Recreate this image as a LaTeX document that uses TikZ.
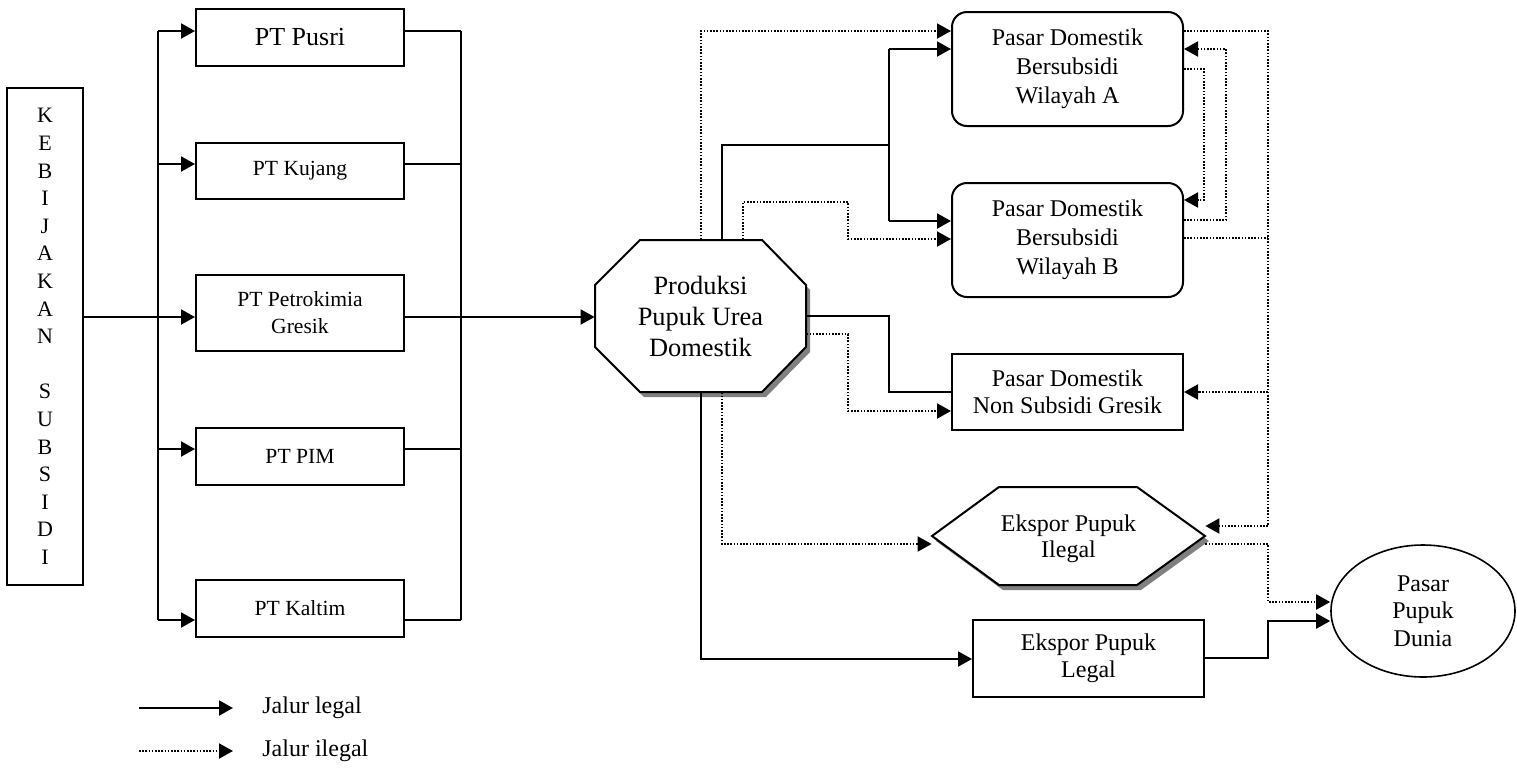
\documentclass[tikz,border=0pt]{standalone}
\usepackage{fontspec}
\setmainfont{Liberation Serif}
\usetikzlibrary{arrows.meta,calc,shapes.geometric}
\begin{document}
\begin{tikzpicture}[x=0.5pt,y=-0.5pt,
  box/.style={draw,line width=1pt,inner sep=0pt,align=center,font=\fontsize{10.8}{13.5}\selectfont},
  rbox/.style={box,rounded corners=7.5pt,font=\fontsize{12}{14.5}\selectfont},
  plain/.style={inner sep=0pt,align=center},
  line/.style={line width=1pt},
  legal/.style={line width=1pt,-{Triangle[length=7pt,width=7.5pt]}},
  dline/.style={line width=1pt,dash pattern=on 0.8pt off 0.8pt},
  ilegal/.style={dline,-{Triangle[length=7pt,width=7.5pt]}},
  shade/.style={fill=black!50}]
\useasboundingbox (0,0) rectangle (1517,773);

% ---------- nodes ----------
\node[box,minimum width=38pt,minimum height=248.5pt,font=\fontsize{11}{13.8}\selectfont] (keb) at (45,336.5)
  {K\\E\\B\\I\\J\\A\\K\\A\\N\\\mbox{}\\S\\U\\B\\S\\I\\D\\I};

\node[box,minimum width=104pt,minimum height=28.5pt,font=\fontsize{13}{15}\selectfont] (pusri) at (300,37.5) {PT Pusri};
\node[box,minimum width=104pt,minimum height=28pt] (kujang) at (300,171) {PT Kujang};
\node[box,minimum width=104pt,minimum height=38pt] (petro) at (300,313) {PT Petrokimia\\Gresik};
\node[box,minimum width=104pt,minimum height=28.5pt] (pim) at (300,456.5) {PT PIM};
\node[box,minimum width=104pt,minimum height=28.5pt] (kaltim) at (300,608.5) {PT Kaltim};

% octagon (shadow + shape)
\fill[shade,shift={(4,5)}] (640,240) -- (762,240) -- (806,285) -- (806,347) -- (762,392) -- (640,392) -- (595,347) -- (595,285) -- cycle;
\draw[line,fill=white] (640,240) -- (762,240) -- (806,285) -- (806,347) -- (762,392) -- (640,392) -- (595,347) -- (595,285) -- cycle;
\node[plain,minimum width=105.5pt,minimum height=76pt,font=\fontsize{13.2}{15.5}\selectfont] (oct) at (700.5,316)
  {Produksi\\Pupuk Urea\\Domestik};

\node[rbox,minimum width=115.5pt,minimum height=57pt] (A) at (1067.5,69) {Pasar Domestik\\Bersubsidi\\Wilayah A};
\node[rbox,minimum width=115.5pt,minimum height=57pt] (B) at (1067.5,240) {Pasar Domestik\\Bersubsidi\\Wilayah B};
\node[box,minimum width=115.5pt,minimum height=38pt,font=\fontsize{12}{13.5}\selectfont] (ns) at (1067.5,392) {Pasar Domestik\\Non Subsidi Gresik};

% hexagon (shadow + shape)
\fill[shade,shift={(4,5)}] (932,536) -- (999,487) -- (1137,487) -- (1205,536) -- (1137,585) -- (999,585) -- cycle;
\draw[line,fill=white] (932,536) -- (999,487) -- (1137,487) -- (1205,536) -- (1137,585) -- (999,585) -- cycle;
\node[plain,minimum width=136.5pt,minimum height=49pt,font=\fontsize{12}{13}\selectfont] (ilegal) at (1068.5,539) {Ekspor Pupuk\\Ilegal};

\node[box,minimum width=115.5pt,minimum height=38.5pt,font=\fontsize{12}{13.5}\selectfont] (legal) at (1088.5,658.5) {Ekspor Pupuk\\Legal};
\node[ellipse,draw,line width=0.8pt,inner sep=0pt,minimum width=92pt,minimum height=66pt,align=center,font=\fontsize{12}{13.75}\selectfont] (dunia) at (1423,611) {Pasar\\Pupuk\\Dunia};

% ---------- left bus ----------
\coordinate (bT) at (158,31);
\coordinate (bK) at (158,164);
\coordinate (bP) at (158,317);
\coordinate (bI) at (158,449);
\coordinate (bB) at (158,620);
\draw[line] (bT) -- (bB);
\draw[legal] (keb.east |- bP) -- (bP -| petro.west);
\draw[legal] (bT) -- (bT -| pusri.west);
\draw[legal] (bK) -- (bK -| kujang.west);
\draw[legal] (bI) -- (bI -| pim.west);
\draw[legal] (bB) -- (bB -| kaltim.west);

% ---------- right bus ----------
\coordinate (rT) at (461,31);
\coordinate (rK) at (461,164);
\coordinate (rP) at (461,317);
\coordinate (rI) at (461,449);
\coordinate (rB) at (461,620);
\draw[line] (rT) -- (rB);
\draw[line] (pusri.east |- rT) -- (rT);
\draw[line] (kujang.east |- rK) -- (rK);
\draw[line] (petro.east |- rP) -- (rP);
\draw[line] (pim.east |- rI) -- (rI);
\draw[line] (kaltim.east |- rB) -- (rB);
\draw[legal] (rP) -- (rP -| oct.west);

% ---------- from octagon to A / B ----------
\coordinate (c1) at (701,31);
\draw[ilegal] (oct.north -| c1) -- (c1) -- (c1 -| A.west);
\coordinate (c2) at (722,145);
\coordinate (c3) at (889,145);
\coordinate (c4) at (889,49);
\coordinate (c5) at (889,221);
\draw[line] (oct.north -| c2) -- (c2) -- (c3);
\draw[line] (c4) -- (c5);
\draw[legal] (c4) -- (c4 -| A.west);
\draw[legal] (c5) -- (c5 -| B.west);
\coordinate (c6) at (743,202);
\coordinate (c7) at (848,202);
\coordinate (c8) at (848,239);
\draw[ilegal] (oct.north -| c6) -- (c6) -- (c7) -- (c8) -- (c8 -| B.west);

% ---------- A <-> B and right dotted bus ----------
\coordinate (q1) at (1204,69);
\coordinate (q2) at (1204,200);
\draw[ilegal] (A.east |- q1) -- (q1) -- (q2) -- (q2 -| B.east);
\coordinate (q3) at (1226,220);
\coordinate (q4) at (1226,49);
\draw[ilegal] (B.east |- q3) -- (q3) -- (q4) -- (q4 -| A.east);
\coordinate (r1) at (1268,31);
\coordinate (r2) at (1268,526);
\coordinate (r3) at (1268,392);
\coordinate (r4) at (1268,238);
\draw[dline] (A.east |- r1) -- (r1) -- (r2);
\draw[dline] (B.east |- r4) -- (r4);
\draw[ilegal] (r3) -- (r3 -| ns.east);
\draw[ilegal] (r2) -- (r2 -| ilegal.east);

% ---------- octagon to non subsidi ----------
\coordinate (n1) at (889,392);
\draw[line] (oct.east) -| (n1) -- (ns.west);
\coordinate (n2) at (848,334);
\coordinate (n3) at (848,411);
\draw[ilegal] (oct.east |- n2) -- (n2) -- (n3) -- (n3 -| ns.west);

% ---------- octagon to exports ----------
\coordinate (i1) at (722,544);
\draw[ilegal] (oct.south -| i1) -- (i1) -- (i1 -| ilegal.west);
\coordinate (l1) at (701,659);
\draw[legal] (oct.south -| l1) -- (l1) -- (l1 -| legal.west);

% ---------- exports to world market ----------
\coordinate (i2) at (1268,544);
\coordinate (i3) at (1268,602);
\draw[ilegal] (ilegal.east |- i2) -- (i2) -- (i3) -- (i3 -| dunia.west);
\coordinate (l2) at (1268,658);
\coordinate (l3) at (1268,621);
\draw[legal] (legal.east |- l2) -- (l2) -- (l3) -- (l3 -| dunia.west);

% ---------- legend ----------
\coordinate (g1) at (139,708);
\coordinate (g1e) at (233,708);
\coordinate (g2) at (139,751);
\coordinate (g2e) at (233,751);
\draw[legal] (g1) -- (g1e);
\draw[ilegal] (g2) -- (g2e);
\node[anchor=west,inner sep=0pt,font=\fontsize{12}{14}\selectfont] (t1) at (262,708) {Jalur legal};
\node[anchor=west,inner sep=0pt,font=\fontsize{12}{14}\selectfont] (t2) at (262,751) {Jalur ilegal};
\end{tikzpicture}
\end{document}
